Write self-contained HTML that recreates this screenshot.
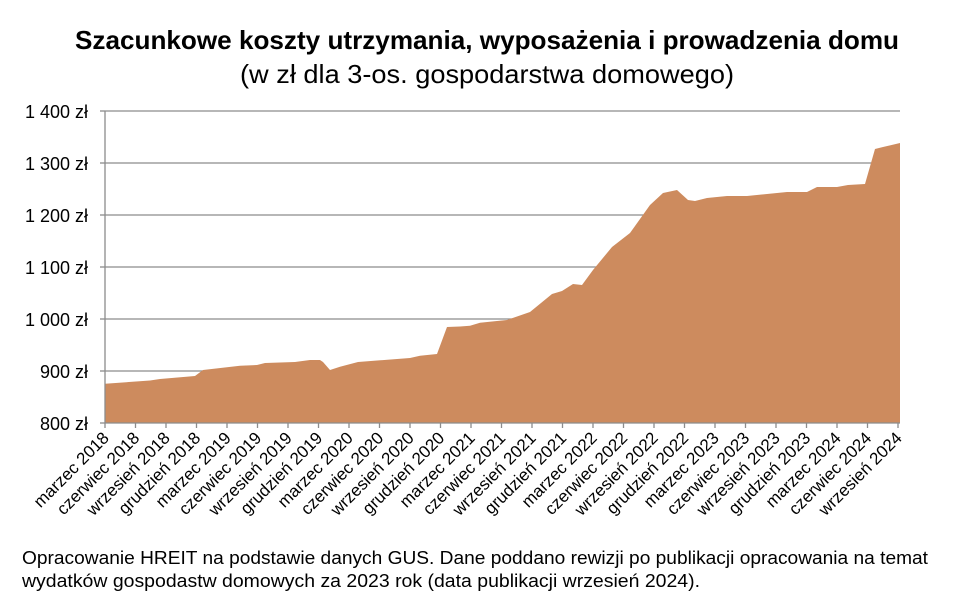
<!DOCTYPE html>
<html><head><meta charset="utf-8"><style>
body{margin:0;background:#fff;width:959px;height:602px;overflow:hidden;font-family:"Liberation Sans",sans-serif}
</style></head><body>
<svg width="959" height="602" xmlns="http://www.w3.org/2000/svg" font-family="Liberation Sans, sans-serif">
<text x="487" y="49" text-anchor="middle" font-size="26" font-weight="bold" textLength="824" lengthAdjust="spacingAndGlyphs">Szacunkowe koszty utrzymania, wyposażenia i prowadzenia domu</text>
<text x="487" y="83" text-anchor="middle" font-size="26" textLength="494" lengthAdjust="spacingAndGlyphs">(w zł dla 3-os. gospodarstwa domowego)</text>
<g stroke="#8c8c8c" stroke-width="1.3">
<line x1="105" y1="111" x2="900" y2="111"/><line x1="105" y1="163" x2="900" y2="163"/><line x1="105" y1="215" x2="900" y2="215"/><line x1="105" y1="267" x2="900" y2="267"/><line x1="105" y1="319" x2="900" y2="319"/><line x1="105" y1="371" x2="900" y2="371"/>
</g>
<polygon fill="#cd8b5e" points="105,423 105,383.7 143,381 150,380.5 160,379 195,376 203,370 240,365.7 257,365 265,363 295,362 310,360 320,360 323,362 330,370 340,366.7 358,362 410,358 420,355.7 437,354 447,327 460,326.5 470,325.7 480,322.7 497,321 507,320 530,312 552,294 562,291 573,284 582,285 593,270 612,247 630,233 650,205 663,193 677,190 688,200 695,201 707,198 727,196 747,196 767,194 787,192 807,192 817,187 837,187 848,185 865,184 875,149 883,147 900,143 900,423"/>
<g stroke="#8c8c8c" stroke-width="1.3">
<line x1="105" y1="111" x2="105" y2="423"/><line x1="105" y1="423" x2="900" y2="423"/>
<line x1="100" y1="111" x2="105" y2="111"/><line x1="100" y1="163" x2="105" y2="163"/><line x1="100" y1="215" x2="105" y2="215"/><line x1="100" y1="267" x2="105" y2="267"/><line x1="100" y1="319" x2="105" y2="319"/><line x1="100" y1="371" x2="105" y2="371"/><line x1="100" y1="423" x2="105" y2="423"/>
</g>
<g font-size="18" text-anchor="end" fill="#000">
<text x="88" y="118">1 400 zł</text><text x="88" y="170">1 300 zł</text><text x="88" y="222">1 200 zł</text><text x="88" y="274">1 100 zł</text><text x="88" y="326">1 000 zł</text><text x="88" y="378">900 zł</text><text x="88" y="430">800 zł</text>
</g>
<g id="ticks" stroke="#8c8c8c" stroke-width="1.3"></g>
<g id="labs" font-size="17" text-anchor="end"></g>
<text x="22" y="564" font-size="18" textLength="906" lengthAdjust="spacingAndGlyphs">Opracowanie HREIT na podstawie danych GUS. Dane poddano rewizji po publikacji opracowania na temat</text>
<text x="22" y="587" font-size="18" textLength="678" lengthAdjust="spacingAndGlyphs">wydatków gospodastw domowych za 2023 rok (data publikacji wrzesień 2024).</text>
</svg>
<script>
var m=["marzec","czerwiec","wrzesień","grudzień"];
var t=document.getElementById("ticks"),l=document.getElementById("labs"),ns="http://www.w3.org/2000/svg";
for(var i=0;i<27;i++){
 var x=105+i*30.5;
 var ln=document.createElementNS(ns,"line");ln.setAttribute("x1",x);ln.setAttribute("x2",x);ln.setAttribute("y1",423);ln.setAttribute("y2",428);t.appendChild(ln);
 var yr=2018+Math.floor(i/4);
 var tx=document.createElementNS(ns,"text");tx.setAttribute("transform","translate("+(x+5)+",439) rotate(-45)");tx.textContent=m[i%4]+" "+yr;l.appendChild(tx);
}
</script>
</body></html>
